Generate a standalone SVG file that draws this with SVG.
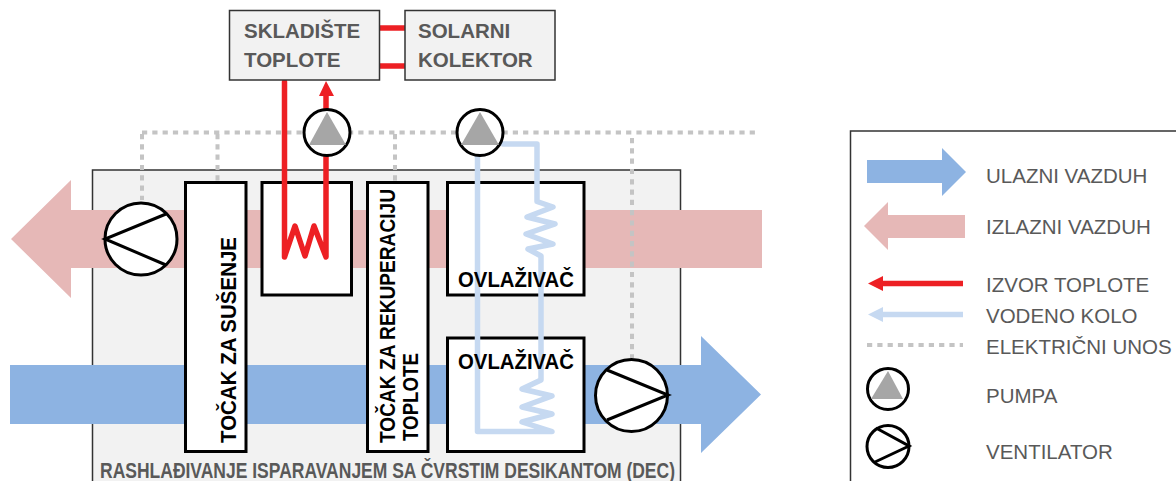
<svg xmlns="http://www.w3.org/2000/svg" width="1176" height="481" viewBox="0 0 1176 481">
<style>
.box{fill:#f2f2f2;stroke:#333;stroke-width:1.5}
.unit{fill:#fff;stroke:#000;stroke-width:3}
.ring{fill:#fff;stroke:#000;stroke-width:3}
.blade{fill:none;stroke:#000;stroke-width:3}
.tri{fill:#a6a6a6}
.red{fill:none;stroke:#ed2024;stroke-width:5.5;stroke-linejoin:round;stroke-linecap:round}
.red2{fill:none;stroke:#ed2024;stroke-width:5.5}
.water{fill:none;stroke:#c6d9f1;stroke-width:5.5;stroke-linejoin:round;stroke-linecap:round}
.dot{fill:none;stroke:#c4c4c4;stroke-width:4;stroke-dasharray:5.2 5.1}
.t{font-family:"Liberation Sans",Arial,sans-serif}
.hd{font-size:20.5px;font-weight:bold;fill:#595959}
.in{font-size:21.5px;font-weight:bold;fill:#000}
.lg{font-size:20.5px;fill:#595959}
</style>
<g id="panel">
<rect class="box" x="92.5" y="170" width="588" height="330"/>
</g>
<g id="air-streams">
<path fill="#e6b8b7" d="M762 210H71V180L11 239L71 298V268H762Z"/>
<path fill="#8db3e2" d="M10 365H701V336L761 394.5L701 453V424H10Z"/>
</g>
<g id="wheel-drying">
<rect class="unit" x="185.5" y="182.5" width="60.5" height="269"/>
<text class="t in" transform="translate(236 443) rotate(-90)" textLength="206" lengthAdjust="spacingAndGlyphs">TOČAK ZA SUŠENJE</text>
</g>
<g id="heater">
<rect class="unit" x="262" y="182.5" width="89.5" height="112.5"/>
</g>
<g id="wheel-recovery">
<rect class="unit" x="367.5" y="182.5" width="60.5" height="269"/>
<text class="t in" transform="translate(395 443) rotate(-90)" textLength="254" lengthAdjust="spacingAndGlyphs">TOČAK ZA REKUPERACIJU</text>
<text class="t in" transform="translate(418 441) rotate(-90)" textLength="88" lengthAdjust="spacingAndGlyphs">TOPLOTE</text>
</g>
<g id="humidifier-top">
<rect class="unit" x="447.5" y="182.5" width="136.5" height="112.5"/>
</g>
<g id="humidifier-bottom">
<rect class="unit" x="447.5" y="338" width="136.5" height="113.5"/>
</g>
<g id="connectors">
<path class="dot" d="M142 132.5H760M142 134V200M217.5 134V181M395 134V181M632 138V358"/>
<path class="red2" d="M380 28H405M380 66H405"/>
<path class="red" d="M284.5 82V257L295 226L305 256L314 226L326 257V155"/>
<path class="red2" d="M326 110V95"/>
<path fill="#ed2024" d="M326 81L334 96H319Z"/>
<path class="water" d="M477.5 155V431.5H552L522 422L552 414L522 407L552 396L522 389L541 380V256L528 249L553 244L526 234L555 224L527 217L553 207L537 201.5V144H503"/>
</g>
<g id="labels-humidifier">
<text class="t in" x="458" y="287" textLength="116" lengthAdjust="spacingAndGlyphs">OVLAŽIVAČ</text>
<text class="t in" x="458" y="369" textLength="116" lengthAdjust="spacingAndGlyphs">OVLAŽIVAČ</text>
</g>
<g id="storage">
<rect class="box" x="229.5" y="10.5" width="150" height="69.5"/>
<text class="t hd" x="244" y="38">SKLADIŠTE</text>
<text class="t hd" x="244" y="67">TOPLOTE</text>
</g>
<g id="collector">
<rect class="box" x="405" y="10.5" width="150" height="69.5"/>
<text class="t hd" x="418" y="38">SOLARNI</text>
<text class="t hd" x="418" y="67">KOLEKTOR</text>
</g>
<g id="pump-heat">
<circle class="ring" cx="327" cy="132.5" r="23"/>
<path class="tri" d="M327 112L346 145H309Z"/>
</g>
<g id="pump-water">
<circle class="ring" cx="480" cy="132.5" r="23"/>
<path class="tri" d="M480 112L499 145H461Z"/>
</g>
<g id="fan-exhaust">
<circle class="ring" cx="141" cy="239" r="36"/>
<path class="blade" d="M166 214L105 239L166 265"/>
</g>
<g id="fan-supply">
<circle class="ring" cx="631.5" cy="395.5" r="36"/>
<path class="blade" d="M607 370L668 395L607 420"/>
</g>
<g id="title">
<text class="t" x="100" y="478" font-size="22" font-weight="bold" fill="#595959" textLength="575" lengthAdjust="spacingAndGlyphs">RASHLAĐIVANJE ISPARAVANJEM SA ČVRSTIM DESIKANTOM (DEC)</text>
</g>
<g id="legend">
<rect x="850.5" y="131" width="340" height="370" fill="#fff" stroke="#333" stroke-width="1.5"/>
<path fill="#8db3e2" d="M867 160H942V148L966 172L942 196V183H867Z"/>
<text class="t lg" x="986" y="183">ULAZNI VAZDUH</text>
<path fill="#e6b8b7" d="M965 215H888V202L864 226L888 250V238H965Z"/>
<text class="t lg" x="986" y="234">IZLAZNI VAZDUH</text>
<path class="red2" d="M963 283.5H882"/>
<path fill="#ed2024" d="M868 283.5L883 276V291Z"/>
<text class="t lg" x="986" y="292">IZVOR TOPLOTE</text>
<path fill="none" stroke="#c6d9f1" stroke-width="5.5" d="M963 314.5H882"/>
<path fill="#c6d9f1" d="M868 314.5L883 307V322Z"/>
<text class="t lg" x="986" y="323">VODENO KOLO</text>
<path class="dot" d="M867 345H963"/>
<text class="t lg" x="986" y="354">ELEKTRIČNI UNOS</text>
<circle class="ring" cx="888" cy="389" r="20.5"/>
<path class="tri" d="M888 371L903 399H871Z"/>
<text class="t lg" x="986" y="403">PUMPA</text>
<circle class="ring" cx="888" cy="446.5" r="21"/>
<path class="blade" d="M876 428L909 446L875 462"/>
<text class="t lg" x="986" y="459">VENTILATOR</text>
</g>
</svg>
